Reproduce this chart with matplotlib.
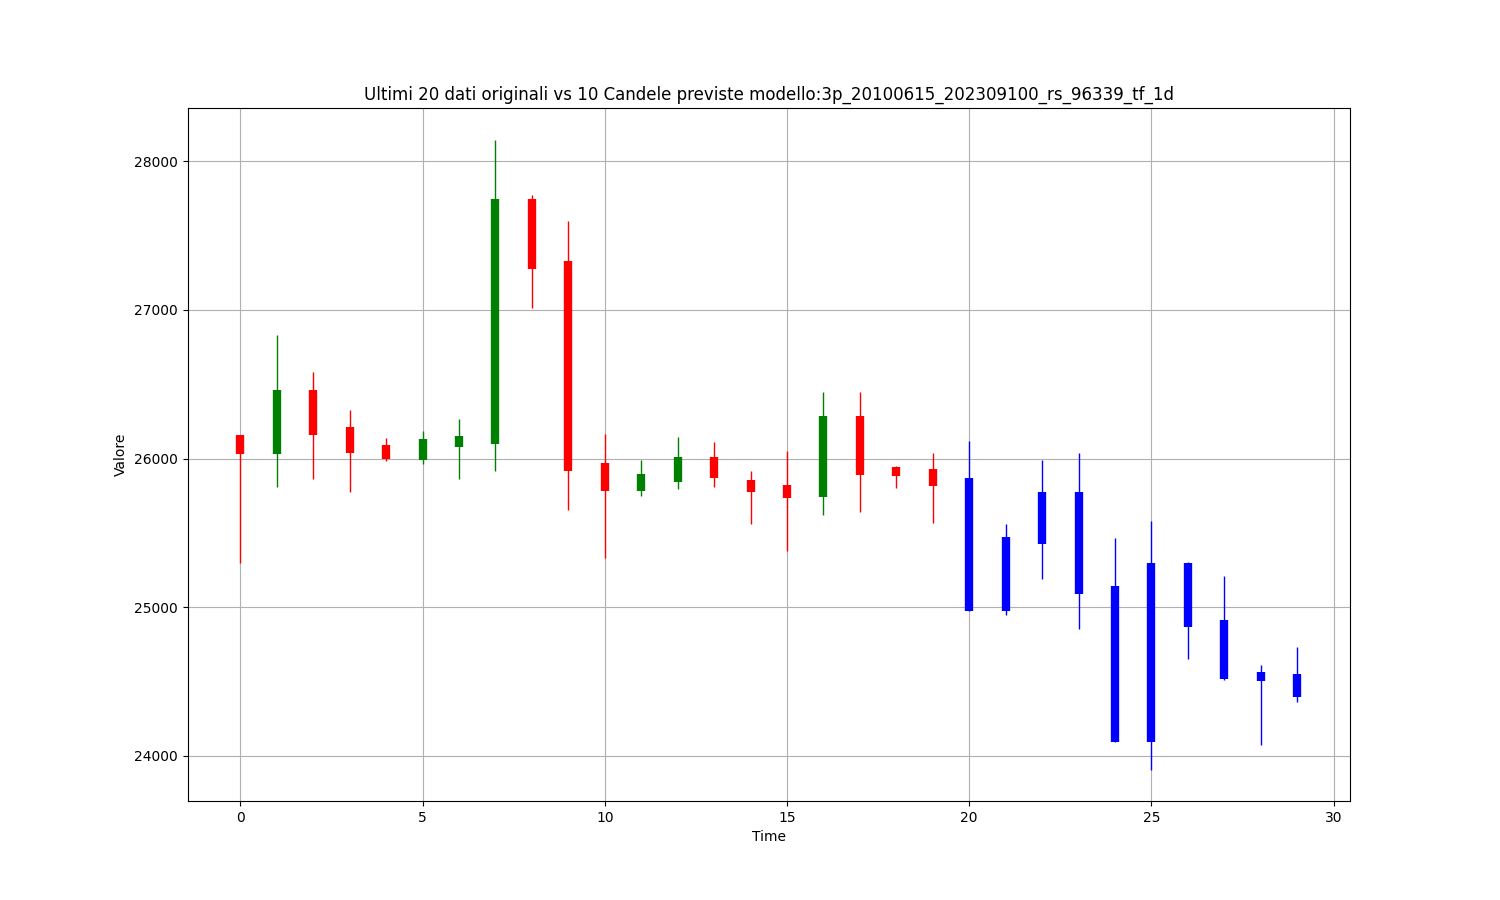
import numpy as np
import matplotlib
matplotlib.use("Agg")
import matplotlib.pyplot as plt

# ultimi 20 dati originali
orig_open = [26160, 26030, 26460, 26210, 26090, 25990, 26075, 26097, 27745, 27328,
             25970, 25782, 25842, 26007, 25855, 25822, 25740, 26286, 25943, 25930]
orig_close = [26030, 26460, 26160, 26040, 25995, 26130, 26150, 27745, 27275, 25916,
              25782, 25896, 26007, 25870, 25775, 25735, 26286, 25890, 25882, 25815]
orig_high = [26160, 26830, 26580, 26326, 26138, 26185, 26265, 28148, 27772, 27597,
             26165, 25990, 26145, 26111, 25916, 26050, 26447, 26447, 25950, 26037]
orig_low = [25297, 25808, 25862, 25775, 25980, 25965, 25860, 25916, 27012, 25654,
            25331, 25748, 25795, 25808, 25560, 25378, 25620, 25640, 25802, 25566]

# 10 candele previste
pred_open = [25869, 25472, 25425, 25775, 25143, 25297, 25297, 24914, 24565, 24551]
pred_close = [24975, 24975, 25775, 25090, 24094, 24094, 24867, 24518, 24504, 24397]
pred_high = [26118, 25560, 25990, 26037, 25466, 25580, 25304, 25210, 24612, 24733]
pred_low = [24975, 24948, 25190, 24854, 24094, 23906, 24652, 24510, 24074, 24363]

title = "Ultimi 20 dati originali vs 10 Candele previste modello:3p_20100615_202309100_rs_96339_tf_1d"


def draw_candles(ax, xs, o, c, h, l, colors):
    ax.vlines(xs, l, h, colors=colors, linewidth=1)
    ax.vlines(xs, o, c, colors=colors, linewidth=6)


fig, ax = plt.subplots(figsize=(15, 9), dpi=100)

x_orig = np.arange(len(orig_open))
col_orig = ["green" if c >= o else "red" for o, c in zip(orig_open, orig_close)]
draw_candles(ax, x_orig, orig_open, orig_close, orig_high, orig_low, col_orig)

x_pred = np.arange(len(orig_open), len(orig_open) + len(pred_open))
draw_candles(ax, x_pred, pred_open, pred_close, pred_high, pred_low, "blue")

ax.set_title(title)
ax.set_xlabel("Time")
ax.set_ylabel("Valore")
ax.grid(True)

fig.savefig("out.png")
